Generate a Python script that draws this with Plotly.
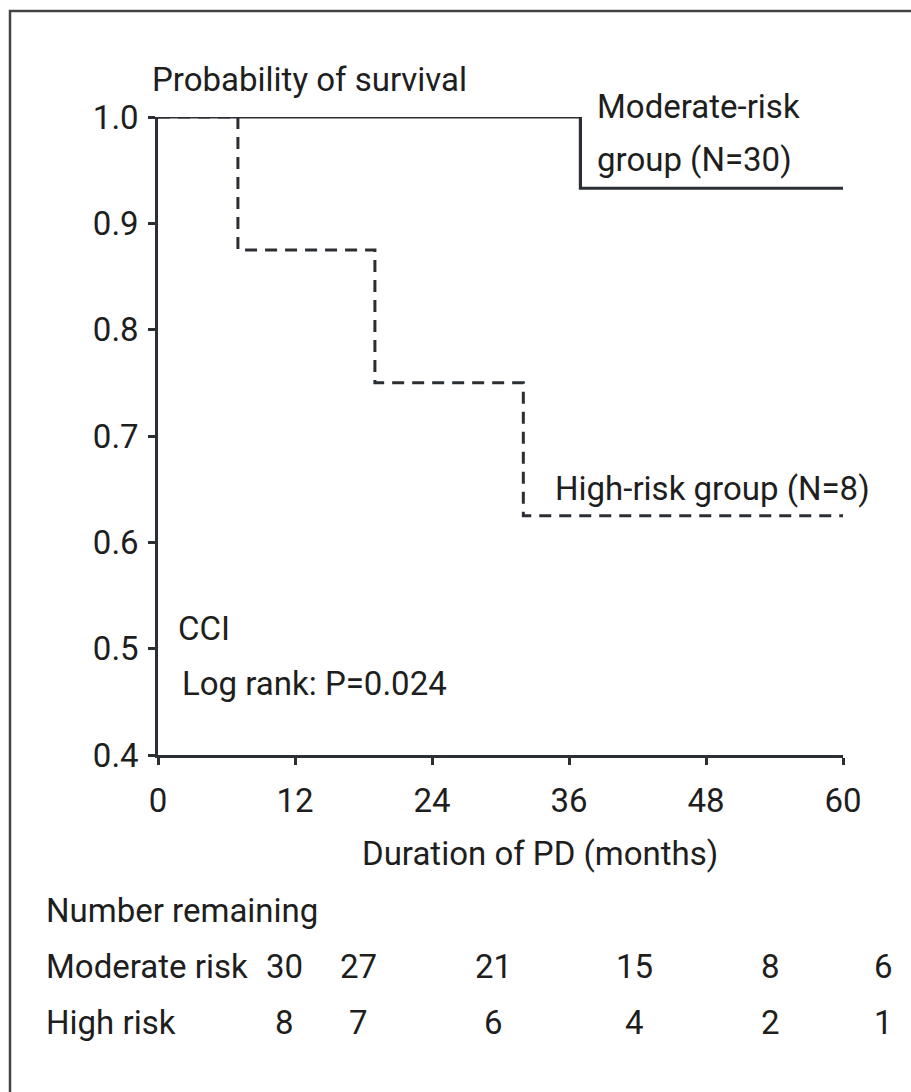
import plotly.graph_objects as go

# Kaplan-Meier step curves (months, survival probability)
moderate_t = [0, 37, 37, 60]
moderate_s = [1.0, 1.0, 0.933, 0.933]
high_t = [0, 7, 7, 19, 19, 32, 32, 60]
high_s = [1.0, 1.0, 0.875, 0.875, 0.75, 0.75, 0.625, 0.625]

x_ticks = [0, 12, 24, 36, 48, 60]
y_ticks = [0.4, 0.5, 0.6, 0.7, 0.8, 0.9, 1.0]

# Number at risk table
risk_rows = ["Moderate risk", "High risk"]
moderate_at_risk = ["30", "27", "21", "15", "8", "6"]
high_at_risk = ["8", "7", "6", "4", "2", "1"]

W, H = 911, 1092
L, R, T, B = 158, 68, 117, 337
PW, PH = W - L - R, H - T - B
FONT = "Roboto, Liberation Sans, sans-serif"
FS = 33
INK = "#1e1e1e"
LINE = "#2b2f33"


def px(x):
    # pixel column -> paper coordinate (relative to the plot area)
    return (x - L) / PW


def py(y):
    # pixel row -> paper coordinate (relative to the plot area)
    return (H - B - y) / PH


fig = go.Figure()
fig.add_trace(go.Scatter(x=moderate_t, y=moderate_s, mode="lines",
                         line=dict(color=LINE, width=3.2), cliponaxis=False,
                         showlegend=False, hoverinfo="skip"))
fig.add_trace(go.Scatter(x=high_t, y=high_s, mode="lines",
                         line=dict(color=LINE, width=3, dash="12px,8px"),
                         cliponaxis=False, showlegend=False, hoverinfo="skip"))

annos = []


def txt(s, x, y, xanchor="left", size=FS):
    annos.append(dict(text=s, x=px(x), y=py(y), xref="paper", yref="paper",
                      xanchor=xanchor, yanchor="middle", showarrow=False,
                      font=dict(family=FONT, size=size, color=INK)))


txt("Probability of survival", 150, 80)
txt("Moderate-risk", 595, 106)
txt("group (N=30)", 595, 160)
txt("High-risk group (N=8)", 553, 488)
txt("CCI", 176, 628)
txt("Log rank: P=0.024", 180, 683)
txt("Duration of PD (months)", 540, 853, xanchor="center")
txt("Number remaining", 44, 910)
txt(risk_rows[0], 44, 966)
txt(risk_rows[1], 44, 1022)

col_x = [284, 358, 493, 634, 770, 883]
for cx, m, h in zip(col_x, moderate_at_risk, high_at_risk):
    txt(m, cx, 966, xanchor="center")
    txt(h, cx, 1022, xanchor="center")

fig.update_layout(
    width=W, height=H,
    margin=dict(l=L, r=R, t=T, b=B),
    paper_bgcolor="white", plot_bgcolor="white",
    annotations=annos,
    shapes=[dict(type="rect", xref="paper", yref="paper",
                 x0=px(10), x1=px(W + 20), y0=py(H + 20), y1=py(11),
                 line=dict(color="#444444", width=2.5))],
    xaxis=dict(range=[0, 60], tickvals=x_ticks, ticktext=[str(v) for v in x_ticks],
               showgrid=False, zeroline=False, showline=True, linecolor=LINE,
               linewidth=2.5, ticks="outside", ticklen=7, tickwidth=2.5,
               tickcolor=LINE, ticklabelstandoff=8,
               tickfont=dict(family=FONT, size=FS, color=INK)),
    yaxis=dict(range=[0.4, 1.0], tickvals=y_ticks,
               ticktext=[f"{v:.1f}" for v in y_ticks],
               showgrid=False, zeroline=False, showline=True, linecolor=LINE,
               linewidth=2.5, ticks="outside", ticklen=7, tickwidth=2.5,
               tickcolor=LINE, ticklabelstandoff=3,
               tickfont=dict(family=FONT, size=FS, color=INK)),
)

fig.write_html("out.html")
